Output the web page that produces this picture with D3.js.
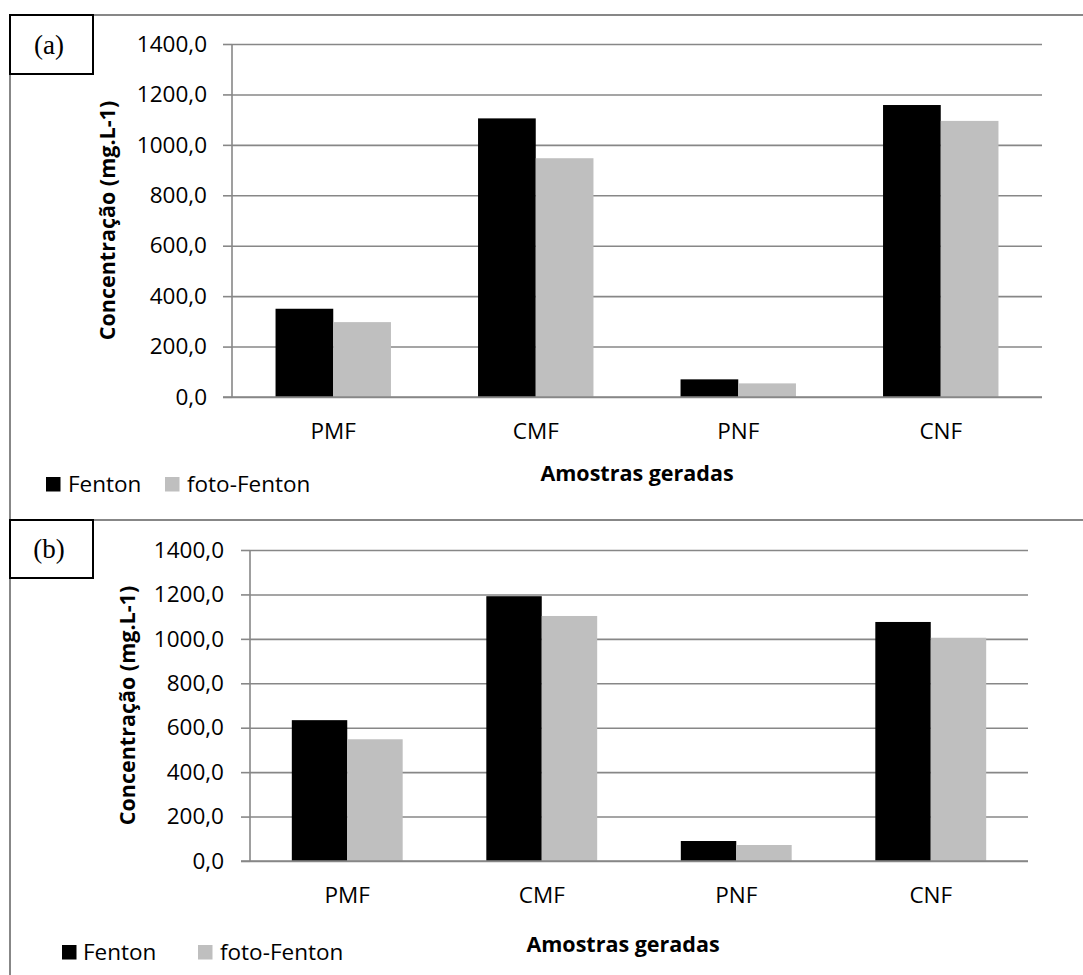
<!DOCTYPE html>
<html>
<head>
<meta charset="utf-8">
<script src="https://cdn.jsdelivr.net/npm/d3@7"></script>
<style>
  html, body { margin: 0; padding: 0; background: #fff; }
  svg { display: block; }
</style>
</head>
<body>
<svg id="chart" width="1083" height="975"></svg>
<script>
// ---- data ----
const categories = ["PMF", "CMF", "PNF", "CNF"];
const seriesNames = ["Fenton", "foto-Fenton"];
const fentonA = [350, 1105, 70, 1158];
const fotoFentonA = [297, 947, 54, 1095];
const fentonB = [634, 1192, 90, 1076];
const fotoFentonB = [548, 1103, 72, 1005];
const yTicks = [0, 200, 400, 600, 800, 1000, 1200, 1400];
const panelLabels = ["(a)", "(b)"];
const yTitle = "Concentração (mg.L-1)";
const xTitle = "Amostras geradas";

// ---- style / layout ----
const colors = ["#000000", "#bfbfbf"];
const gridColor = "#878787";
const font = "'Open Sans', 'Noto Sans', sans-serif";
const fs = 22.5;

const panels = [
  { label: panelLabels[0], series: [fentonA, fotoFentonA],
    frameTop: 15, frameBottom: 520, boxH: 59,
    left: 232, right: 1042, top: 44, bottom: 397,
    tickLabelX: 207, catY: 439, xTitleX: 637, xTitleY: 481, yTitleX: 108,
    legendY: 477, legendSq: 14.5, legend: [[46, 68], [165, 187]] },
  { label: panelLabels[1], series: [fentonB, fotoFentonB],
    frameTop: 520, frameBottom: 975, boxH: 58,
    left: 250, right: 1028, top: 550, bottom: 861,
    tickLabelX: 224, catY: 903, xTitleX: 623, xTitleY: 952, yTitleX: 128,
    legendY: 945, legendSq: 14.5, legend: [[62, 83], [198, 220]] }
];

const svg = d3.select("#chart");
const fmt = v => d3.format(".1f")(v).replace(".", ",");

panels.forEach(p => {
  const g = svg.append("g");

  // outer frame (top + left lines)
  g.append("line").attr("x1", 10).attr("x2", 1083).attr("y1", p.frameTop).attr("y2", p.frameTop)
    .attr("stroke", gridColor).attr("stroke-width", 2);
  g.append("line").attr("x1", 10).attr("x2", 10).attr("y1", p.frameTop).attr("y2", p.frameBottom)
    .attr("stroke", gridColor).attr("stroke-width", 2);

  const x = d3.scaleBand().domain(categories).range([p.left, p.right])
    .paddingInner(0.43).paddingOuter(0.215);
  const xs = d3.scaleBand().domain(seriesNames).range([0, x.bandwidth()]);
  const y = d3.scaleLinear().domain([0, 1400]).range([p.bottom, p.top]);

  // y axis with gridlines
  const yAxis = d3.axisLeft(y).tickValues(yTicks).tickFormat(fmt)
    .tickSizeInner(-(p.right - p.left)).tickSizeOuter(0).tickPadding(p.left - p.tickLabelX);
  const ya = g.append("g").attr("transform", `translate(${p.left},0)`).call(yAxis);
  ya.select(".domain").remove();
  ya.selectAll(".tick line").attr("stroke", gridColor).attr("stroke-width", 1.6);
  ya.selectAll(".tick").append("line").attr("x1", -9).attr("x2", 0)
    .attr("stroke", gridColor).attr("stroke-width", 1.6);
  ya.selectAll(".tick text").attr("font-family", font).attr("font-size", fs).attr("fill", "#000");
  g.append("line").attr("x1", p.left).attr("x2", p.left).attr("y1", p.top).attr("y2", p.bottom)
    .attr("stroke", gridColor).attr("stroke-width", 1.6);

  // bars
  p.series.forEach((vals, si) => {
    g.append("g").selectAll("rect").data(vals).join("rect")
      .attr("x", (d, i) => x(categories[i]) + xs(seriesNames[si]))
      .attr("y", d => y(d))
      .attr("width", xs.bandwidth())
      .attr("height", d => y(0) - y(d))
      .attr("fill", colors[si]);
  });

  // x axis
  const xAxis = d3.axisBottom(x).tickSize(0).tickPadding(0);
  const xa = g.append("g").attr("transform", `translate(0,${p.bottom})`).call(xAxis);
  xa.select(".domain").remove();
  xa.selectAll(".tick text").attr("font-family", font).attr("font-size", fs).attr("fill", "#000")
    .attr("dy", null).attr("y", p.catY - p.bottom);
  g.append("line").attr("x1", p.left - 9).attr("x2", p.right).attr("y1", y(0)).attr("y2", y(0))
    .attr("stroke", gridColor).attr("stroke-width", 1.6);

  // titles
  g.append("text").attr("x", p.xTitleX).attr("y", p.xTitleY).attr("text-anchor", "middle")
    .attr("font-family", font).attr("font-size", fs - 1).attr("font-weight", "bold").text(xTitle);
  g.append("text").attr("transform", `translate(${p.yTitleX + 7},${(p.top + p.bottom) / 2}) rotate(-90)`)
    .attr("text-anchor", "middle")
    .attr("font-family", font).attr("font-size", fs - 1).attr("font-weight", "bold").text(yTitle);

  // legend
  seriesNames.forEach((s, i) => {
    const [sx, tx] = p.legend[i];
    g.append("rect").attr("x", sx).attr("y", p.legendY).attr("width", p.legendSq).attr("height", p.legendSq)
      .attr("fill", colors[i]);
    g.append("text").attr("x", tx).attr("y", p.legendY + p.legendSq).attr("font-family", font)
      .attr("font-size", fs).text(s);
  });

  // panel label box
  g.append("rect").attr("x", 10).attr("y", p.frameTop).attr("width", 83).attr("height", p.boxH)
    .attr("fill", "#fff").attr("stroke", "#000").attr("stroke-width", 2);
  g.append("text").attr("x", 49).attr("y", p.frameTop + p.boxH / 2 + 9).attr("text-anchor", "middle")
    .attr("font-family", "'Liberation Serif', serif").attr("font-size", 27).text(p.label);
});
</script>
</body>
</html>
